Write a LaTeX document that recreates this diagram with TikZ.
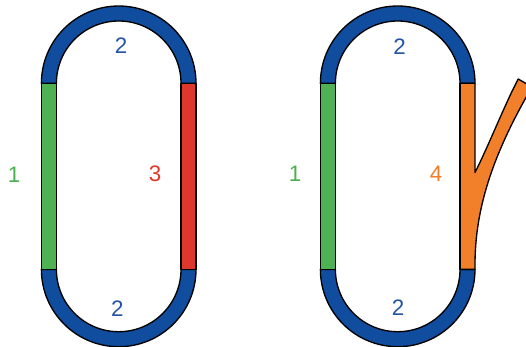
\documentclass[tikz,border=0pt]{standalone}
\usepackage{fontspec}
\setmainfont{Liberation Sans}
\definecolor{trkblue}{HTML}{114D9E}
\definecolor{trkgreen}{HTML}{4EB254}
\definecolor{trkred}{HTML}{DD382B}
\definecolor{trkorange}{HTML}{F2802A}
\definecolor{txtblue}{HTML}{2355A5}
\definecolor{txtgreen}{HTML}{4CAF50}
\definecolor{txtred}{HTML}{E0392B}
\definecolor{txtorange}{HTML}{F07D2A}
\begin{document}
\begin{tikzpicture}[x=0.75pt,y=-0.75pt,
  seg/.style={draw=black,line width=1pt,line join=round},
  edge/.style={draw=black,line width=1pt,line cap=round,line join=round},
  lbl/.style={font=\fontsize{16.8}{19}\selectfont,inner sep=0pt}]
\useasboundingbox (0,0) rectangle (526,347);
\clip (0,0) rectangle (526,347);
% ---------- left oval ----------
\def\cx{118.7}
\path[seg,fill=trkblue] (\cx-77.3,83.3) arc[start angle=180,end angle=360,radius=77.3]
  -- (\cx+62.3,83.3) arc[start angle=360,end angle=180,radius=62.3] -- cycle;
\path[seg,fill=trkblue] (\cx-77.3,269.4) arc[start angle=180,end angle=0,radius=77.3]
  -- (\cx+62.3,269.4) arc[start angle=0,end angle=180,radius=62.3] -- cycle;
\path[seg,fill=trkgreen] (\cx-77.3,83.3) rectangle (\cx-62.3,269.4);
\path[seg,fill=trkred] (\cx+62.3,83.3) rectangle (\cx+77.3,269.4);
% ---------- right oval ----------
\def\cx{397.7}
\path[seg,fill=trkblue] (\cx-77.3,83.3) arc[start angle=180,end angle=360,radius=77.3]
  -- (\cx+62.3,83.3) arc[start angle=360,end angle=180,radius=62.3] -- cycle;
\path[seg,fill=trkblue] (\cx-77.3,269.4) arc[start angle=180,end angle=0,radius=77.3]
  -- (\cx+62.3,269.4) arc[start angle=0,end angle=180,radius=62.3] -- cycle;
\path[seg,fill=trkgreen] (\cx-77.3,83.3) rectangle (\cx-62.3,269.4);
% orange straight with branch
\fill[trkorange] (\cx+62.3,83.3) rectangle (\cx+77.3,269.4);
\fill[trkorange] (475,172.5) .. controls (488,147) and (505,104) .. (518.2,79.0)
  -- (532,87) .. controls (491.7,156.1) and (475,210) .. (475,265) -- cycle;
\draw[edge] (\cx+62.3,83.3) -- (\cx+62.3,269.4);
\draw[edge] (\cx+62.3,83.3) -- (475,83.3) -- (475,172.5)
  .. controls (488,147) and (505,104) .. (518.2,79.0) -- (532,87)
  .. controls (491.7,156.1) and (475,210) .. (475,265) -- (475,269.4) -- (\cx+62.3,269.4);
% ---------- labels ----------
\node[lbl,text=txtblue] (la2t) at (121,45.7) {2};
\node[lbl,text=txtblue] (la2b) at (117.3,308.3) {2};
\node[lbl,text=txtgreen] (la1) at (14,175) {1};
\node[lbl,text=txtred] (la3) at (155,173.3) {3};
\node[lbl,text=txtblue] (lb2t) at (399.7,46.7) {2};
\node[lbl,text=txtblue] (lb2b) at (398,307.3) {2};
\node[lbl,text=txtgreen] (lb1) at (295,173.3) {1};
\node[lbl,text=txtorange] (lb4) at (436,173.3) {4};
\end{tikzpicture}
\end{document}
